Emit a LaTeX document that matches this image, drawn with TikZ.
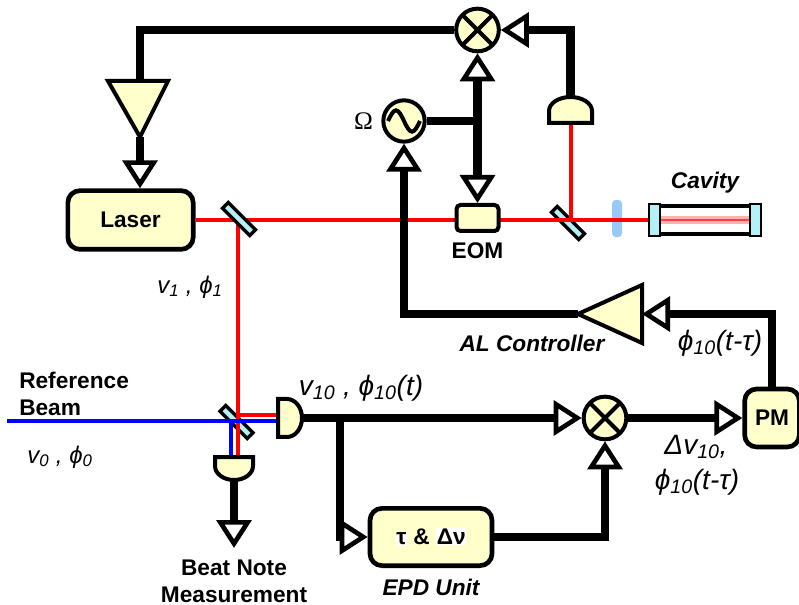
\documentclass[tikz,border=0pt]{standalone}
\usepackage{fontspec}
\setmainfont{Liberation Sans}
\newfontfamily\omegafont{Liberation Serif}
\usetikzlibrary{arrows.meta,positioning,backgrounds}

\definecolor{lightyellow}{HTML}{FFFFCC}
\definecolor{glasscyan}{HTML}{B4F0F8}
\definecolor{plateblue}{HTML}{99C9F7}

\newcommand{\bigfont}{\fontsize{17}{20}\selectfont}
\newcommand{\symfont}{\fontsize{21}{24}\selectfont}

\begin{document}
\begin{tikzpicture}[x=0.75pt,y=-0.75pt,
    >={Triangle[fill=white,length=21pt,width=26pt,line width=3.5pt]},
    sig/.style={line width=6.6pt},
    laserbeam/.style={red,line width=3pt},
    refbeam/.style={blue,line width=3pt},
    block/.style={draw,line width=3.5pt,rounded corners=9pt,fill=lightyellow,inner sep=0pt,font=\bfseries\bigfont},
    mixer/.style={circle,draw,line width=3pt,fill=lightyellow,minimum size=32pt,inner sep=0pt,
        path picture={\draw[line width=3pt] (path picture bounding box.north west) -- (path picture bounding box.south east)
            (path picture bounding box.south west) -- (path picture bounding box.north east);}},
    osc/.style={circle,draw,line width=3pt,fill=lightyellow,minimum size=31pt,inner sep=0pt,
        path picture={\draw[line width=3pt] ([xshift=-12pt]path picture bounding box.center)
            sin ++(6pt,8pt) cos ++(6pt,-8pt) sin ++(6pt,-8pt) cos ++(6pt,8pt);}},
    splitter/.style={draw,line width=2.5pt,fill=glasscyan,minimum width=29pt,minimum height=6pt,inner sep=0pt,rotate=-45},
    amp/.style={draw,line width=3pt,fill=lightyellow},
    det/.style={draw,line width=3pt,fill=lightyellow},
    tag/.style={inner sep=0pt,font=\bfseries\bigfont,align=center},
    tagit/.style={inner sep=0pt,font=\bfseries\itshape\bigfont},
    sym/.style={inner sep=0pt,font=\itshape\symfont},
]
\useasboundingbox (0,0) rectangle (799,605);

% optical table
\node[block,minimum width=94pt,minimum height=44pt] (laser) at (130.5,220) {Laser};
\node[splitter] (bs1) at (239,219) {};
\node[block,rounded corners=3pt,line width=3pt,minimum width=31.5pt,minimum height=19.5pt] (eom) at (477.5,218) {};
\node[tag,below=7pt of eom] (eomtag) {EOM};
\node[draw,line width=2.5pt,minimum width=81pt,minimum height=21pt,inner sep=0pt] (cavity) at (705,220) {};
\draw[draw,line width=1.5pt,fill=glasscyan] (cavity.north west) rectangle ([xshift=8pt]cavity.south west);
\draw[draw,line width=1.5pt,fill=glasscyan] (cavity.north east) rectangle ([xshift=-8pt]cavity.south east);
\draw[red!30,line width=6pt] ([xshift=9pt]cavity.west) -- ([xshift=-9pt]cavity.east);
\draw[red!75,line width=1.5pt] ([xshift=9pt]cavity.west) -- ([xshift=-9pt]cavity.east);
\node[tagit,above=8pt of cavity] (cavitytag) {Cavity};

% photodetectors
\draw[det] (549,123) -- (549,111) arc[start angle=180,end angle=360,x radius=21.5,y radius=14] -- (592,123) -- cycle;
\coordinate (pdctop) at (570.5,97);
\coordinate (pdcbot) at (570.5,123);
\draw[det] (278,399) -- (287,399) arc[start angle=270,end angle=450,x radius=15,y radius=19] -- (278,437) -- cycle;
\coordinate (pdrout) at (302,418);
\coordinate (pdrin) at (278,421);
\coordinate (pdrup) at (278,415);
\draw[det] (215,457) -- (253,457) -- (253,466) arc[start angle=0,end angle=180,x radius=19,y radius=14] -- cycle;
\coordinate (pdbtop) at (234,457);
\coordinate (pdbout) at (234,480);
\coordinate (beat) at (234,548);

% beams
\coordinate (refin) at (7,421);
\coordinate (bluedown) at (231,421);
\coordinate (reddown) at (238,415);
\begin{scope}[on background layer]
  \node[fill=plateblue,rounded corners=3pt,minimum width=7.5pt,minimum height=28pt,inner sep=0pt] (plate) at (617,218.5) {};
  \node[splitter] (bs2) at (568,223) {};
  \node[splitter] (bs3) at (236.5,422) {};
  \draw[laserbeam] (laser) -- (cavity);
  \draw[laserbeam] (pdcbot) -- (pdcbot |- laser.east);
  \draw[laserbeam] (reddown |- laser.east) -- (reddown |- pdbtop);
  \draw[laserbeam] (reddown) -- (pdrup);
  \draw[refbeam] (refin) -- (pdrin);
  \draw[refbeam] (bluedown) -- (bluedown |- pdbtop);
\end{scope}

% electronics
\node[mixer] (mixtop) at (477.5,30) {};
\node[mixer] (mixbot) at (605,418) {};
\node[osc] (osc) at (404,121) {};
\node[left=6pt of osc,inner sep=0pt,font=\omegafont\fontsize{19}{20}\selectfont] (omega) {Ω};
\coordinate (junction) at (477.5,121);
\node[block,minimum width=91.5pt,minimum height=43pt] (epd) at (431,537)
    {{\fboxsep=0.5pt\colorbox{white}{τ} \& \colorbox{white}{Δν}}};
\node[tagit,below=8pt of epd] (epdtag) {EPD Unit};
\node[block,minimum width=41pt,minimum height=43.5pt] (pm) at (772,418) {PM};
\coordinate (split) at (340,418);

\draw[sig] (mixtop) -| (140,81) coordinate (ampin);
\draw[amp] (108,81) -- (168,81) -- (140,137) coordinate (ampout) -- cycle;
\draw[sig,->] (ampout) -- (ampout |- laser.north);
\draw[sig,->] (pdctop) |- (mixtop);
\draw[sig] (osc) -- (junction);
\draw[sig,->] (junction) -- (mixtop);
\draw[sig,->] (junction) -- (eom);
\draw[amp] (642,285) -- (642,343) -- (578,314) coordinate (alout) -- cycle;
\coordinate (alin) at (642,314);
\draw[sig,->] (alout) -| (osc);
\draw[sig,->] (pm) |- (alin);
\draw[sig,->] (pdrout) -- (mixbot);
\draw[sig,->] (split) |- (epd);
\draw[sig,->] (epd) -| (mixbot);
\draw[sig,->] (mixbot) -- (pm);
\draw[sig,->] (pdbout) -- (beat);

% labels
\node[tag,anchor=west,align=left] (reftag) at (19,394) {Reference\\Beam};
\node[tag] (beattag) at (234,581) {Beat Note\\Measurement};
\node[tagit] (altag) at (532,343) {AL Controller};
\node[sym,font=\itshape\fontsize{18}{20}\selectfont] (nu1) at (190,287) {v\textsubscript{1} , ϕ\textsubscript{1}};
\node[sym,font=\itshape\fontsize{18}{20}\selectfont] (nu0) at (60,457) {v\textsubscript{0} , ϕ\textsubscript{0}};
\node[sym] (nu10) at (361,388) {v\textsubscript{10} , ϕ\textsubscript{10}(t)};
\node[sym] (phiback) at (720,343) {ϕ\textsubscript{10}(t-τ)};
\node[sym] (dnu) at (696,447) {Δv\textsubscript{10},};
\node[sym] (phiout) at (697,482) {ϕ\textsubscript{10}(t-τ)};
\end{tikzpicture}
\end{document}
